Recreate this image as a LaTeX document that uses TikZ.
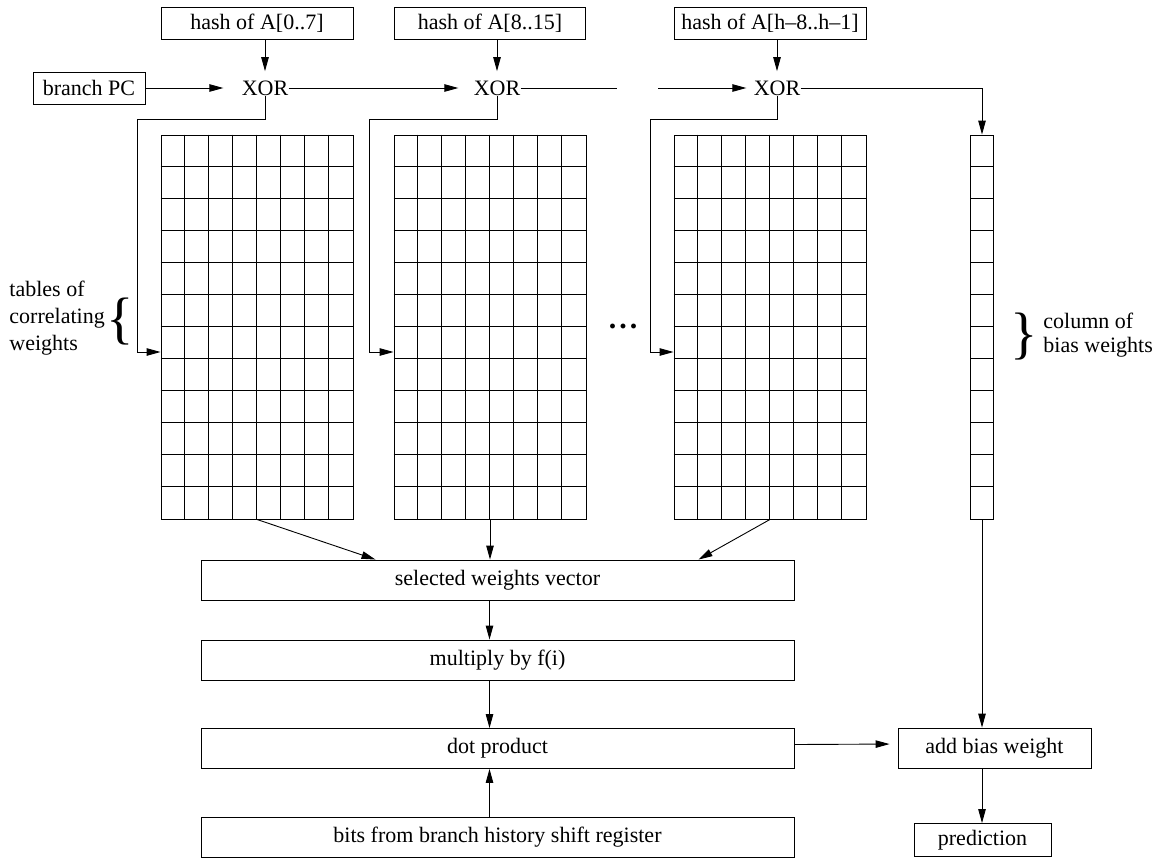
\documentclass[tikz,border=0pt]{standalone}
\usepackage{fontspec}
\setmainfont{Liberation Serif}
\usetikzlibrary{arrows.meta}
\begin{document}
\begin{tikzpicture}
  [x=1pt,y=-1pt,line width=0.9pt,>={Triangle[length=14pt,width=7.5pt]},
   every node/.style={font=\fontsize{22}{27}\selectfont},
   box/.style={draw,rectangle,inner sep=0pt,minimum height=32pt},
   wide/.style={draw,rectangle,inner sep=0pt,minimum width=593pt,minimum height=40pt},
   tbl/.style={draw,rectangle,inner sep=0pt,minimum width=192pt,minimum height=384pt},
   gate/.style={inner sep=0pt}]
  \useasboundingbox (0,0) rectangle (1161,857);

  % inputs
  \node[box,minimum width=192pt] (h1) at (257,23) {hash of A[0..7]};
  \node[box,minimum width=191pt] (h2) at (490,23) {hash of A[8..15]};
  \node[box,minimum width=192pt] (h3) at (770,23) {hash of A[h--8..h--1]};
  \node[box,minimum width=112pt] (pc) at (89,88) {branch PC};

  \node[gate] (x1) at (265,88) {XOR};
  \node[gate] (x2) at (497,88) {XOR};
  \node[gate] (x3) at (777,88) {XOR};

  \coordinate (g1) at (617,88);
  \coordinate (g2) at (658,88);
  \coordinate (k1) at (137,119);
  \coordinate (k2) at (369,119);
  \coordinate (k3) at (650,119);

  % weight tables
  \foreach \t/\x in {t1/257,t2/490,t3/770}
  {
    \node[tbl] (\t) at (\x,327) {};
    \foreach \i in {1,...,7}
      \draw ([xshift=\i*24pt]\t.north west) -- ([xshift=\i*24pt]\t.south west);
    \foreach \j in {1,...,11}
      \draw ([yshift=-\j*32pt]\t.north west) -- ([yshift=-\j*32pt]\t.north east);
  }
  \node[draw,inner sep=0pt,minimum width=23pt,minimum height=384pt] (bc) at (982,327) {};
  \foreach \j in {1,...,11}
    \draw ([yshift=-\j*32pt]bc.north west) -- ([yshift=-\j*32pt]bc.north east);

  \node[gate,font=\fontsize{30}{30}\selectfont] (dots) at (623,326) {\textbf{.\hspace{3pt}.\hspace{3pt}.}};

  \node[align=left,anchor=west,inner sep=0pt] (lt) at (9,318) {tables of\\correlating\\weights};
  \node[inner sep=0pt,font=\fontsize{57}{57}\selectfont] (bl) at (120,322) {\{};
  \node[inner sep=0pt,font=\fontsize{57}{57}\selectfont] (br) at (1024,337) {\}};
  \node[align=left,anchor=west,inner sep=0pt,font=\fontsize{22}{24}\selectfont] (lb) at (1043,335) {column of\\bias weights};

  % pipeline
  \node[wide] (sel) at (497.5,580) {selected weights vector};
  \node[wide] (mul) at (497.5,660) {multiply by f(i)};
  \node[wide] (dot) at (497.5,748.5) {dot product};
  \node[wide] (bits) at (497.5,837) {bits from branch history shift register};
  \node[box,minimum width=193pt,minimum height=40pt] (add) at (994.5,748) {add bias weight};
  \node[box,minimum width=137pt,minimum height=33pt] (pred) at (982.5,840) {prediction};

  % connections
  \foreach \from/\to in {h1/x1,h2/x2,h3/x3}
    \draw[->,shorten >=9pt] (\to |- \from.south) -- (\to);
  \draw[->,shorten >=18pt] (pc) -- (x1);
  \draw[->,shorten >=15pt] (x1) -- (x2);
  \draw (x2) -- (g1);
  \draw[->,shorten >=7pt] (g2) -- (x3);
  \draw[->] (x3) -| (bc.north);

  \draw[->] (x1) |- (k1) |- ([yshift=-25pt]t1.west);
  \draw[->] (x2) |- (k2) |- ([yshift=-25pt]t2.west);
  \draw[->] (x3) |- (k3) |- ([yshift=-25pt]t3.west);

  \draw[->] (t1.south) -- ([xshift=-122pt]sel.north);
  \draw[->] (t2.south) -- (t2.south |- sel.north);
  \draw[->] (t3.south) -- ([xshift=201pt]sel.north);
  \draw[->] ([xshift=-8pt]sel.south) -- ([xshift=-8pt]mul.north);
  \draw[->] ([xshift=-8pt]mul.south) -- ([xshift=-8pt]dot.north);
  \draw[->] ([xshift=-8pt]bits.north) -- ([xshift=-8pt]dot.south);
  \draw[->,shorten >=8pt] ([yshift=4pt]dot.east) -- ([yshift=4pt]add.west);
  \draw[->] (bc.south) -- (bc.south |- add.north);
  \draw[->] (bc.south |- add.south) -- (bc.south |- pred.north);

\end{tikzpicture}
\end{document}
